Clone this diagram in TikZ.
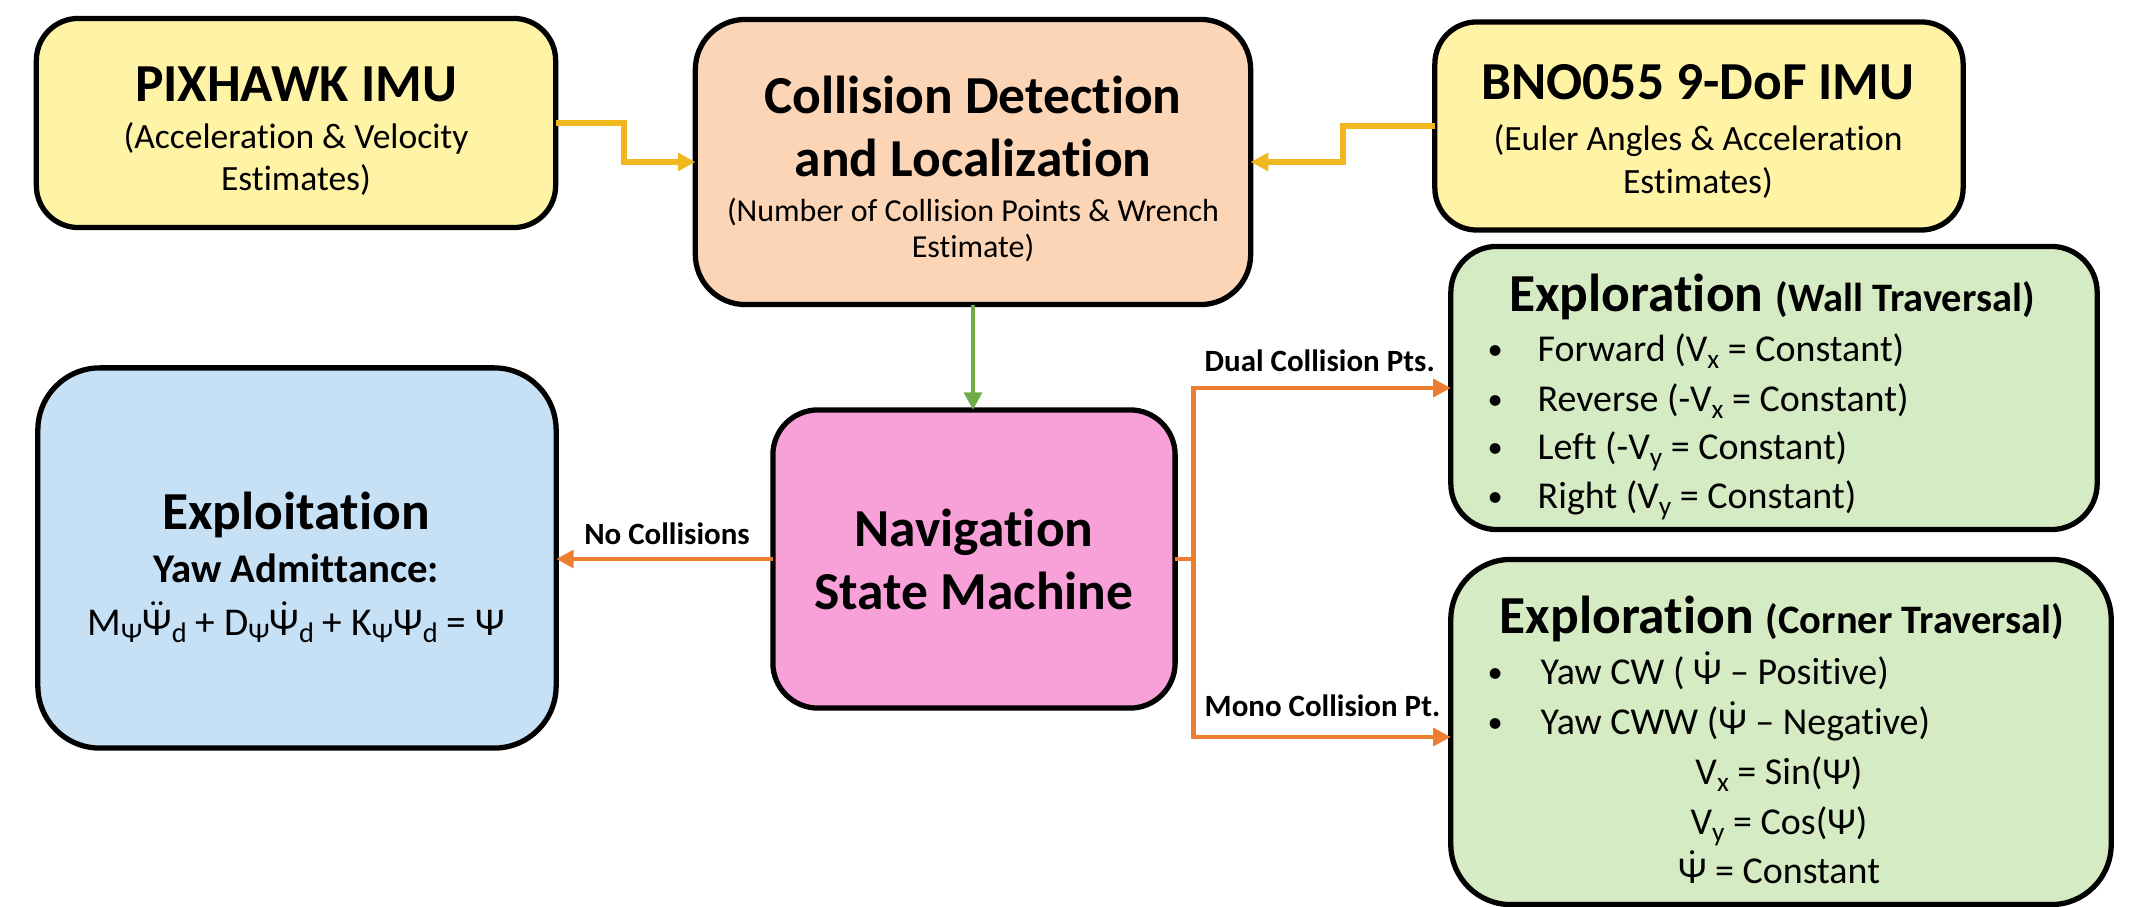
\documentclass[tikz,border=0pt]{standalone}
\usepackage{fontspec}
\setmainfont{Carlito}[Ligatures={NoCommon,NoContextual}]
\usepackage{amsmath}
\usetikzlibrary{arrows.meta}
\definecolor{yelfill}{RGB}{255,243,165}
\definecolor{peachfill}{RGB}{251,213,181}
\definecolor{pinkfill}{RGB}{248,160,216}
\definecolor{bluefill}{RGB}{198,224,245}
\definecolor{greenfill}{RGB}{213,235,195}
\definecolor{yelline}{RGB}{238,184,30}
\definecolor{grnline}{RGB}{112,173,71}
\definecolor{orgline}{RGB}{237,125,49}
\newcommand{\lsub}[1]{\raisebox{-0.35ex}{\scalebox{0.72}{#1}}}
\newcommand{\pdot}{\ensuremath{\dot{\text{Ψ}}}}
\newcommand{\pddot}{\ensuremath{\ddot{\text{Ψ}}}}
\newcommand{\bul}{\raisebox{0.12ex}{\scalebox{0.8}{•}}}
\begin{document}
\begin{tikzpicture}[x=0.01cm, y=-0.01cm,
  boxstyle/.style={draw=black, line width=1.5pt, inner sep=0pt, outer sep=0pt, rectangle},
  ttltxt/.style={font=\fontsize{15.2pt}{18pt}\selectfont\bfseries, anchor=base, inner sep=0pt},
  subtxt/.style={font=\fontsize{10.1pt}{12pt}\selectfont, anchor=base, inner sep=0pt},
  csubtxt/.style={font=\fontsize{9.1pt}{11pt}\selectfont, anchor=base, inner sep=0pt},
  midtxt/.style={font=\fontsize{11.6pt}{14pt}\selectfont\bfseries, anchor=base, inner sep=0pt},
  eqtxt/.style={font=\fontsize{11.2pt}{14pt}\selectfont, anchor=base, inner sep=0pt},
  bultxt/.style={font=\fontsize{10.8pt}{13pt}\selectfont, anchor=base west, inner sep=0pt},
  lbltxt/.style={font=\fontsize{8.8pt}{10pt}\selectfont\bfseries, inner sep=0pt},
  yarr/.style={draw=yelline, line width=1.7pt, -{Triangle[length=5pt,width=5pt]}},
  garr/.style={draw=grnline, line width=1.3pt, -{Triangle[length=5pt,width=5pt]}},
  oarr/.style={draw=orgline, line width=1.4pt, -{Triangle[length=5pt,width=5pt]}}
]
\useasboundingbox (0,0) rectangle (2129,907);
\fill[white] (0,0) rectangle (2129,907);

% boxes
\node[boxstyle, fill=yelfill, minimum width=5.19cm, minimum height=2.09cm, rounded corners=0.42cm] (pix) at (296,123) {};
\node[boxstyle, fill=peachfill, minimum width=5.55cm, minimum height=2.85cm, rounded corners=0.5cm] (cdl) at (973,162) {};
\node[boxstyle, fill=yelfill, minimum width=5.28cm, minimum height=2.08cm, rounded corners=0.42cm] (bno) at (1699,126) {};
\node[boxstyle, fill=bluefill, minimum width=5.18cm, minimum height=3.80cm, rounded corners=0.62cm] (exploit) at (297,558) {};
\node[boxstyle, fill=pinkfill, minimum width=4.02cm, minimum height=2.98cm, rounded corners=0.45cm] (nav) at (974,559) {};
\node[boxstyle, fill=greenfill, minimum width=6.46cm, minimum height=2.83cm, rounded corners=0.46cm] (wall) at (1774,388) {};
\node[boxstyle, fill=greenfill, minimum width=6.60cm, minimum height=3.45cm, rounded corners=0.6cm] (corner) at (1781,732) {};

% texts: PIXHAWK
\node[ttltxt] (pixT) at (296,102) {PIXHAWK IMU};
\node[subtxt] (pixS1) at (296,149) {(Acceleration \& Velocity};
\node[subtxt] (pixS2) at (296,191) {Estimates)};
% Collision
\node[ttltxt] (cdlT1) at (973,114) {Collision Detection};
\node[ttltxt] (cdlT2) at (973,177) {and Localization};
\node[csubtxt] (cdlS1) at (973,222) {(Number of Collision Points \& Wrench};
\node[csubtxt] (cdlS2) at (973,258) {Estimate)};
% BNO
\node[ttltxt] (bnoT) at (1698,100) {BNO055 9-DoF IMU};
\node[subtxt] (bnoS1) at (1698,151) {(Euler Angles \& Acceleration};
\node[subtxt] (bnoS2) at (1698,194) {Estimates)};
% Exploitation
\node[ttltxt] (exT) at (296,530) {Exploitation};
\node[midtxt] (exS) at (296,583) {Yaw Admittance:};
\node[eqtxt] (exE) at (296,636) {M\lsub{Ψ}\pddot\lsub{d} + D\lsub{Ψ}\pdot\lsub{d} + K\lsub{Ψ}Ψ\lsub{d} = Ψ};
% Navigation
\node[ttltxt] (navT1) at (974,547) {Navigation};
\node[ttltxt] (navT2) at (974,610) {State Machine};
% Wall
\node[ttltxt] (wallT) at (1772,312) {Exploration {\fontsize{11.5pt}{14pt}\selectfont (Wall Traversal)}};
\node[bultxt] (wallB1) at (1487,362) {\makebox[0.50cm][l]{\bul}Forward (V\lsub{x} = Constant)};
\node[bultxt] (wallB2) at (1487,412) {\makebox[0.50cm][l]{\bul}Reverse (-V\lsub{x} = Constant)};
\node[bultxt] (wallB3) at (1487,460) {\makebox[0.50cm][l]{\bul}Left (-V\lsub{y} = Constant)};
\node[bultxt] (wallB4) at (1487,509) {\makebox[0.50cm][l]{\bul}Right (V\lsub{y} = Constant)};
% Corner
\node[ttltxt] (corT) at (1782,634) {Exploration {\fontsize{11.5pt}{14pt}\selectfont (Corner Traversal)}};
\node[bultxt] (corB1) at (1487,685) {\makebox[0.53cm][l]{\bul}Yaw CW ( \pdot{} – Positive)};
\node[bultxt] (corB2) at (1487,735) {\makebox[0.53cm][l]{\bul}Yaw CWW (\pdot{} – Negative)};
\node[eqtxt, font=\fontsize{10.8pt}{13pt}\selectfont] (corE1) at (1779,785) {V\lsub{x} = Sin(Ψ)};
\node[eqtxt, font=\fontsize{10.8pt}{13pt}\selectfont] (corE2) at (1779,835) {V\lsub{y} = Cos(Ψ)};
\node[eqtxt, font=\fontsize{10.8pt}{13pt}\selectfont] (corE3) at (1779,884) {\pdot{} = Constant};

% connectors
\draw[yarr] (pix.east) -- ++(68,0) |- (cdl.west);
\draw[yarr] (bno.west) -- ++(-92,0) |- (cdl.east);
\draw[garr] (cdl.south) -- (cdl.south |- nav.north);
\draw[oarr] (nav.west) -- (nav.west -| exploit.east);
\draw[oarr] (nav.east) -- ++(18,0) |- (wall.west);
\draw[oarr] (nav.east) -- ++(18,0) |- ([yshift=-0.05cm]corner.west);

% connector labels
\node[lbltxt, anchor=base] (noL) at (667,545) {No Collisions};
\node[lbltxt, anchor=base west] (dualL) at (1204,372) {Dual Collision Pts.};
\node[lbltxt, anchor=base west] (monoL) at (1204,717) {Mono Collision Pt.};
\end{tikzpicture}
\end{document}
